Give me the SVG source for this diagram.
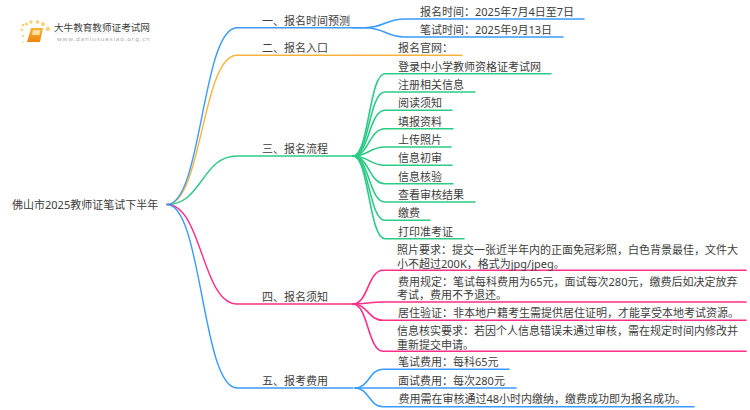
<svg xmlns="http://www.w3.org/2000/svg" width="750" height="410" viewBox="0 0 750 410">
<style>
text{font-family:"Noto Sans","Noto Sans CJK SC",sans-serif;font-size:11px;fill:#3d3d3d}
.c{fill:none;stroke-width:1.4;stroke-linecap:round}
.s{stroke-width:1.6}
.b{stroke:#3c9bff}.g{stroke:#f8b33c}.n{stroke:#2bcb85}.p{stroke:#ff2e87}
.d{fill:#fbcf6b}
</style>
<defs><linearGradient id="bk" x1="0" y1="0" x2="0" y2="1"><stop offset="0" stop-color="#f9b233"/><stop offset="1" stop-color="#ee8410"/></linearGradient></defs>
<rect width="750" height="410" fill="#fff"/>
<g id="connectors">
<path class="c g" d="M167,204.500C202,204.500 202,55.300 237,55.300H353"/>
<path class="c n" d="M167,204.500C202,204.500 202,156 237,156H353"/>
<path class="c b" d="M167,204.500C202,204.500 202,27.700 237,27.700H353"/>
<path class="c p" d="M167,204.500C202,204.500 202,304 237,304H353"/>
<path class="c b" d="M167,204.500C202,204.500 202,388 237,388H353"/>
<path class="c s b" d="M353,27.700H365C385,27.700 385,19 405,19H584"/>
<path class="c s b" d="M353,27.700H365C385,27.700 385,37 405,37H563"/>
<path class="c s g" d="M353,55.300H462"/>
<path class="c s n" d="M353,156C369,156 369,73.700 385,73.700H551"/>
<path class="c s n" d="M353,156C369,156 369,92 385,92H475"/>
<path class="c s n" d="M353,156C369,156 369,110.300 385,110.300H452"/>
<path class="c s n" d="M353,156C369,156 369,128.700 385,128.700H453"/>
<path class="c s n" d="M353,156C369,156 369,147 385,147H451"/>
<path class="c s n" d="M353,156C369,156 369,165.300 385,165.300H452"/>
<path class="c s n" d="M353,156C369,156 369,183.700 385,183.700H453"/>
<path class="c s n" d="M353,156C369,156 369,202 385,202H475"/>
<path class="c s n" d="M353,156C369,156 369,220.300 385,220.300H430"/>
<path class="c s n" d="M353,156C369,156 369,238.700 385,238.700H464"/>
<path class="c s p" d="M353,304C368,304 368,270.300 383,270.300H746"/>
<path class="c s p" d="M353,304C368,304 368,302 383,302H746"/>
<path class="c s p" d="M353,304C368,304 368,320.300 383,320.300H746"/>
<path class="c s p" d="M353,304C368,304 368,351.300 383,351.300H746"/>
<path class="c s b" d="M355,388C369,388 369,369.300 383,369.300H509"/>
<path class="c s b" d="M355,388H516"/>
<path class="c s b" d="M355,388C369,388 369,406.700 383,406.700H694"/>
</g>
<g id="logo">
<circle class="d" cx="23" cy="25" r="1.3"/><circle class="d" cx="26.500" cy="24" r="1.5"/><circle class="d" cx="31" cy="22" r="1.7"/><circle class="d" cx="37.500" cy="22" r="1.8"/><circle class="d" cx="43" cy="24" r="1.9"/><circle class="d" cx="48" cy="29" r="2.100"/><circle class="d" cx="22" cy="30" r="1.200"/><circle class="d" cx="23" cy="36" r="1"/><circle class="d" cx="23" cy="42" r=".8"/>
<path d="M31,28H43L40,42H27Z" fill="url(#bk)"/><path d="M33,30H40.500L39.500,35H32Z" fill="#ffdf9e"/>
<path d="M55,33H146" stroke="#eee" stroke-width="1"/>
<text x="54" y="30.500" style="font-size:9.600px">大牛教育教师证考试网</text>
<text x="57" y="41" style="font-size:6px;letter-spacing:.9px;fill:#aaa">www.daniuxuexiao.org.cn</text>
</g>
<g id="root"><text x="12" y="208.500">佛山市2025教师证笔试下半年</text></g>
<g id="b1"><text x="262" y="24.500">一、报名时间预测</text></g>
<g id="b2"><text x="262" y="52">二、报名入口</text></g>
<g id="b3"><text x="262" y="153">三、报名流程</text></g>
<g id="b4"><text x="262" y="301">四、报名须知</text></g>
<g id="b5"><text x="262" y="384.500">五、报考费用</text></g>
<g id="b1-1"><text x="420" y="15.500">报名时间：2025年7月4日至7日</text></g>
<g id="b1-2"><text x="420" y="33.500">笔试时间：2025年9月13日</text></g>
<g id="b2-1"><text x="398" y="52">报名官网：</text></g>
<g id="b3-1"><text x="398" y="70.500">登录中小学教师资格证考试网</text></g>
<g id="b3-2"><text x="398" y="88.500">注册相关信息</text></g>
<g id="b3-3"><text x="398" y="107">阅读须知</text></g>
<g id="b3-4"><text x="398" y="125.500">填报资料</text></g>
<g id="b3-5"><text x="398" y="143.500">上传照片</text></g>
<g id="b3-6"><text x="398" y="162">信息初审</text></g>
<g id="b3-7"><text x="398" y="180.500">信息核验</text></g>
<g id="b3-8"><text x="398" y="198.500">查看审核结果</text></g>
<g id="b3-9"><text x="398" y="217">缴费</text></g>
<g id="b3-10"><text x="398" y="235.500">打印准考证</text></g>
<g id="b4-1"><text x="397" y="254">照片要求：提交一张近半年内的正面免冠彩照，白色背景最佳，文件大<tspan x="397" dy="13.500">小不超过200K，格式为jpg/jpeg。</tspan></text></g>
<g id="b4-2"><text x="398" y="285.500">费用规定：笔试每科费用为65元，面试每次280元，缴费后如决定放弃<tspan x="397" dy="13.500">考试，费用不予退还。</tspan></text></g>
<g id="b4-3"><text x="398" y="317">居住验证：非本地户籍考生需提供居住证明，才能享受本地考试资源。</text></g>
<g id="b4-4"><text x="397" y="335">信息核实要求：若因个人信息错误未通过审核，需在规定时间内修改并<tspan x="397" dy="13.500">重新提交申请。</tspan></text></g>
<g id="b5-1"><text x="398" y="366">笔试费用：每科65元</text></g>
<g id="b5-2"><text x="398" y="384.500">面试费用：每次280元</text></g>
<g id="b5-3"><text x="398.500" y="403">费用需在审核通过48小时内缴纳，缴费成功即为报名成功。</text></g>
</svg>
